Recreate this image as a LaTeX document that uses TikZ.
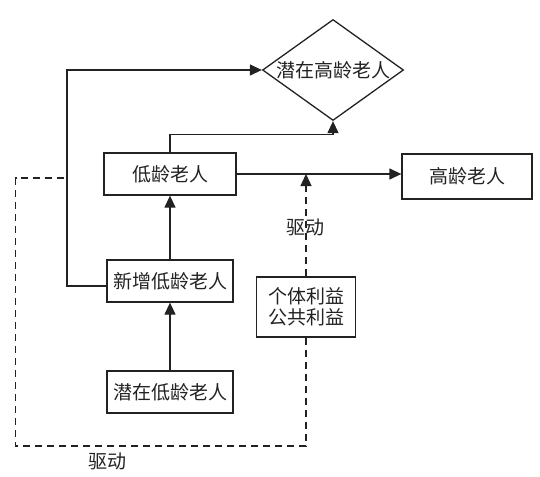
\documentclass[tikz,border=0pt]{standalone}
\usepackage{fontspec}
\setmainfont{Noto Sans CJK SC}
\usetikzlibrary{shapes.geometric,arrows.meta}
\definecolor{ink}{HTML}{222222}
\begin{document}
\begin{tikzpicture}[x=1pt,y=-1pt,line width=1.3pt,draw=ink,text=ink,
  txt/.style={font=\fontsize{19}{20.5}\selectfont},
  box/.style={draw,inner sep=0pt,txt},
  arr/.style={-{Triangle[length=12pt,width=11pt]}},
  dsh/.style={dash pattern=on 7pt off 5pt}]
\useasboundingbox (0,0) rectangle (540,476);
\node[box,minimum width=132pt,minimum height=42pt] (dl) at (170,174) {低龄老人};
\node[box,minimum width=130pt,minimum height=45pt] (gl) at (467,176.5) {高龄老人};
\node[box,minimum width=126pt,minimum height=42pt] (xz) at (170,281) {新增低龄老人};
\node[box,minimum width=126pt,minimum height=42pt] (qz) at (170,392) {潜在低龄老人};
\node[box,minimum width=99pt,minimum height=60pt,align=center] (gt) at (306,307) {个体利益\\公共利益};
\node[draw,diamond,aspect=1.4,inner sep=0pt,minimum width=141pt,minimum height=101pt,txt] (dm) at (333,70) {潜在高龄老人};
\node[txt] (q1) at (305,227) {驱动};
\node[txt] (q2) at (107,461.5) {驱动};
\coordinate (lt) at (67,0);
\coordinate (dbl) at (15.5,446);
\coordinate (dt) at (67,178);
\draw[arr] ([yshift=-5pt]xz.west) -| (lt |- dm.west) -- (dm.west);
\draw[arr] (dl.north) -- ++(0,-18) -| (dm.south);
\draw[arr] (dl.east) -- (dl.east -| gl.west);
\draw[arr] (xz.north) -- (dl.south);
\draw[arr] (qz.north) -- (xz.south);
\draw[arr,dsh] (gt.north) -- (gt.north |- dl.east);
\draw[dsh] (gt.south) |- (dbl) |- (dt);
\end{tikzpicture}
\end{document}
